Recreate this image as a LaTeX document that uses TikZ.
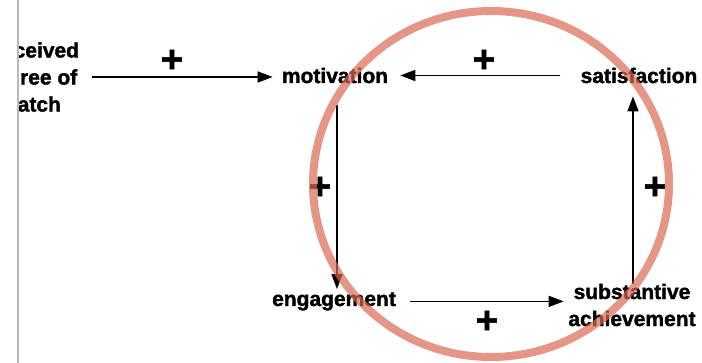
\documentclass[tikz,border=0pt]{standalone}
\usepackage{fontspec}
\setmainfont{Liberation Sans}[BoldFeatures={FakeBold=1.6}]
\usetikzlibrary{arrows.meta}
\definecolor{circ}{RGB}{219,105,84}
\definecolor{edgegray}{RGB}{185,185,185}
\begin{document}
\begin{tikzpicture}[x=1pt,y=-1pt,
  lbl/.style={font=\fontsize{21}{27}\selectfont\bfseries, inner sep=0pt, align=center},
  arr/.style={line width=1.5pt, -{Triangle[length=15pt,width=11pt]}},
  plus/.style={font=\fontsize{38}{38}\selectfont\bfseries, inner sep=0pt}]
\useasboundingbox (0,0) rectangle (702,363);
% labels
\node[lbl, anchor=base] (motiv) at (335,83) {motivation};
\node[lbl, anchor=base] (satis) at (639,83) {satisfaction};
\node[lbl, anchor=base] (engage) at (334,306) {engagement};
\node[lbl] (subst) at (632,305) {substantive\\achievement};
\node[lbl] (perc) at (30,77) {perceived\\degree of\\match};
% connectors
\draw[arr, shorten <=12.5pt, shorten >=9pt] (perc.east) -- (perc.east -| motiv.west);
\draw[arr, shorten <=20pt, shorten >=12pt] (satis.west) -- (satis.west -| motiv.east);
\draw[arr, shorten <=22pt] ([xshift=2pt]motiv.south) -- ([xshift=3pt,yshift=3pt]engage.north);
\draw[arr, shorten <=13.5pt, shorten >=4.5pt] (engage.east) -- (engage.east -| subst.west);
\draw[arr, shorten >=13pt] ([xshift=1pt]subst.north) -- ([xshift=-6pt]satis.south);
% signs
\node[plus] (p1) at (172,61) {+};
\node[plus] (p2) at (484,61) {+};
\node[plus] (p3) at (320,188) {+};
\node[plus] (p4) at (487,322) {+};
\node[plus] (p5) at (655,188) {+};
% left cut edge
\fill[white] (0,0) rectangle (17.3,363);
\draw[edgegray, line width=1.4pt] (18,0) -- (18,363);
% loop circle
\draw[circ, line width=8pt, draw opacity=0.7] (491,184) ellipse [x radius=178pt, y radius=173pt];
\end{tikzpicture}
\end{document}
